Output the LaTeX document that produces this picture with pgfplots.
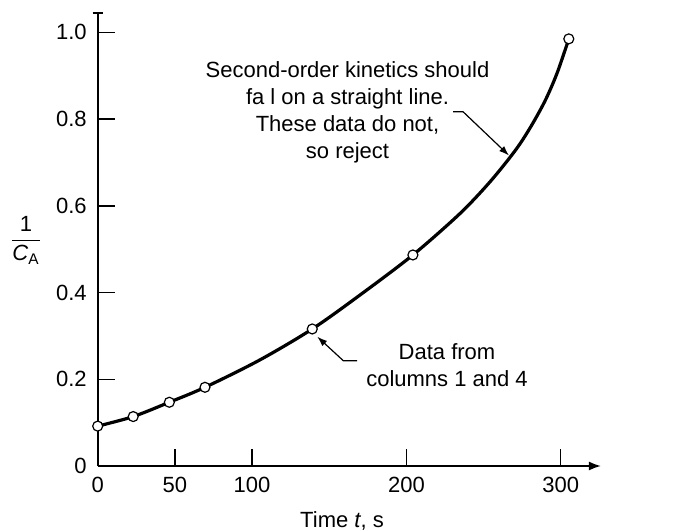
\documentclass[border=0pt]{standalone}
\usepackage{fontspec}
\setmainfont{Liberation Sans}
\usepackage{pgfplots}
\pgfplotsset{compat=1.18}
\usetikzlibrary{arrows.meta}
\newcommand\px[2]{({#1*0.5pt},{(530-#2)*0.5pt})}
\begin{document}
\begin{tikzpicture}
\useasboundingbox (0,0) rectangle (336.5pt,265pt);
\begin{axis}[
  scale only axis, width=251.6pt, height=227pt,
  at={(48.85pt,32pt)}, anchor=south west,
  xmin=0, xmax=326, ymin=0, ymax=1.047,
  axis x line=bottom, axis y line=left,
  axis line style={line width=0.8pt},
  x axis line style={-{Latex[length=6pt,width=4.5pt]}},
  y axis line style={-{Bar[width=5pt]}},
  xtick={0,50,100,200,300},
  ytick={0,0.2,0.4,0.6,0.8,1.0},
  yticklabels={0,0.2,0.4,0.6,0.8,1.0},
  tick align=inside, major tick length=8.5pt,
  tick style={line width=0.7pt, black},
  /pgf/number format/assume math mode=true,
  ticklabel style={font=\fontsize{11}{13}\selectfont},
  xticklabel style={yshift=-2pt},
  yticklabel style={xshift=-2pt},
  clip=false,
]
% fitted curve
\addplot[black, line width=1.6pt, smooth, tension=0.5, no marks] coordinates {
  (0,0.092) (23,0.114) (46.4,0.147) (69.5,0.1815) (105,0.2445) (139,0.316)
  (170,0.3945) (204.2,0.4867) (234.7,0.5822) (254.1,0.6551) (270.3,0.7266)
  (280,0.779) (289.7,0.8413) (297.5,0.905) (305.2,0.985)
};
% data points
\addplot[only marks, mark=*, mark size=2.5pt,
  mark options={fill=white, draw=black, line width=0.6pt}] coordinates {
  (0,0.092) (23,0.114) (46.4,0.147) (69.5,0.1815) (139,0.316) (204.2,0.4867) (305.2,0.985)
};
\end{axis}
\begin{scope}[font=\fontsize{11}{13.5}\selectfont]
\node[align=center] at \px{347.5}{112} {Second-order kinetics should\\fa l on a straight line.\\These data do not,\\so reject};
\node[align=center] at \px{447}{365} {Data from\\columns 1 and 4};
\node[anchor=base] at \px{342}{527} {Time \textit{t}, s};
\node at \px{26}{240} {$\displaystyle\frac{\mbox{1}}{\mbox{\textit{C}\textsubscript{A}}}$};
\end{scope}
\draw[line width=0.6pt, -{Latex[length=5pt,width=3.5pt]}] \px{453}{111.7} -- \px{463}{111.7} -- \px{509}{155.5};
\draw[line width=0.6pt, -{Latex[length=5pt,width=3.5pt]}] \px{357}{360.7} -- \px{343.3}{360.7} -- \px{317.3}{336.7};
\end{tikzpicture}
\end{document}
